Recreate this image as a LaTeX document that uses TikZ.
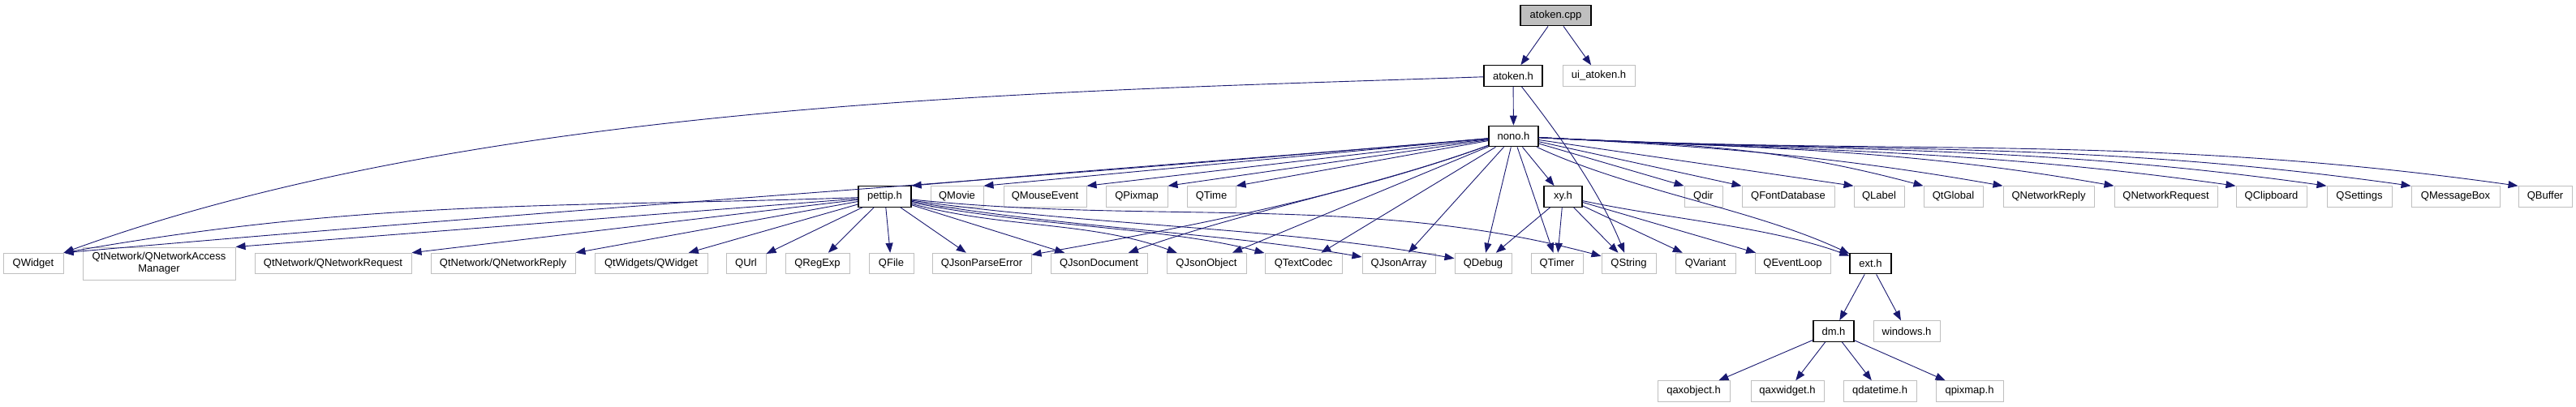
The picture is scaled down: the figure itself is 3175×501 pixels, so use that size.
\documentclass[tikz,border=0pt]{standalone}
\usepackage{fontspec}
\setmainfont{Liberation Sans}
\usetikzlibrary{arrows.meta}
\definecolor{borda}{HTML}{BFBFBF}
\definecolor{azul}{HTML}{191970}

\begin{document}
\begin{tikzpicture}[
        x=1pt, y=1pt,
        every node/.style = {
            shape=rectangle,
            draw=borda,
            line width=1pt,
            minimum height=25.5pt,
            inner sep=0pt,
            align=center,
            font=\fontsize{13}{15}\selectfont
        },
        hfile/.style={draw=black, line width=1.3pt},
        srcfile/.style={draw=black, line width=1.3pt, fill=borda},
        incl/.style={draw=azul, line width=0.9pt, -{Triangle[length=12pt,width=9pt]}}
    ]
    \useasboundingbox (0,0) rectangle (3175,-501);

    % RAIZ
    \node[srcfile, minimum width=87pt] (cpp) at (1917.5,-19) {atoken.cpp};
    % NIVEL 1
    \node[hfile, minimum width=72pt] (atokenh) at (1865,-93.5) {atoken.h};
    \node[minimum width=89pt] (uiatoken) at (1970.5,-93.5) {ui\_atoken.h};
    % NIVEL 2
    \node[hfile, minimum width=61pt] (nono) at (1865.5,-168) {nono.h};
    % NIVEL 3
    \node[hfile, minimum width=65pt] (pettip) at (1090.5,-242.5) {pettip.h};
    \node[minimum width=65pt] (qmovie) at (1179.5,-242.5) {QMovie};
    \node[minimum width=102pt] (qmouseevent) at (1288,-242.5) {QMouseEvent};
    \node[minimum width=76pt] (qpixmap) at (1401,-242.5) {QPixmap};
    \node[minimum width=60pt] (qtime) at (1493,-242.5) {QTime};
    \node[hfile, minimum width=47pt] (xy) at (1926.5,-242.5) {xy.h};
    \node[minimum width=47pt] (qdir) at (2099.5,-242.5) {Qdir};
    \node[minimum width=114pt] (qfontdb) at (2204,-242.5) {QFontDatabase};
    \node[minimum width=62pt] (qlabel) at (2316,-242.5) {QLabel};
    \node[minimum width=73pt] (qtglobal) at (2407.5,-242.5) {QtGlobal};
    \node[minimum width=112pt] (qnetreply) at (2525,-242.5) {QNetworkReply};
    \node[minimum width=127pt] (qnetrequest) at (2669.5,-242.5) {QNetworkRequest};
    \node[minimum width=87pt] (qclipboard) at (2799.5,-242.5) {QClipboard};
    \node[minimum width=80pt] (qsettings) at (2908,-242.5) {QSettings};
    \node[minimum width=109pt] (qmsgbox) at (3026.5,-242.5) {QMessageBox};
    \node[minimum width=66pt] (qbuffer) at (3137,-242.5) {QBuffer};
    % NIVEL 4
    \node[minimum width=74pt] (qwidget) at (41,-325) {QWidget};
    \node[minimum width=188pt, minimum height=40pt] (qnam) at (196,-325) {QtNetwork/QNetworkAccess\\Manager};
    \node[minimum width=193pt] (qtnrequest) at (410.5,-325) {QtNetwork/QNetworkRequest};
    \node[minimum width=178pt] (qtnreply) at (620,-325) {QtNetwork/QNetworkReply};
    \node[minimum width=139pt] (qtwidget) at (802.5,-325) {QtWidgets/QWidget};
    \node[minimum width=49pt] (qurl) at (919.5,-325) {QUrl};
    \node[minimum width=79pt] (qregexp) at (1007.5,-325) {QRegExp};
    \node[minimum width=55pt] (qfile) at (1098.5,-325) {QFile};
    \node[minimum width=122pt] (qjsonerr) at (1210,-325) {QJsonParseError};
    \node[minimum width=119pt] (qjsondoc) at (1354.5,-325) {QJsonDocument};
    \node[minimum width=98pt] (qjsonobj) at (1487,-325) {QJsonObject};
    \node[minimum width=95pt] (qtextcodec) at (1606.5,-325) {QTextCodec};
    \node[minimum width=90pt] (qjsonarr) at (1724,-325) {QJsonArray};
    \node[minimum width=70pt] (qdebug) at (1828,-325) {QDebug};
    \node[minimum width=64pt] (qtimer) at (1919,-325) {QTimer};
    \node[minimum width=67pt] (qstring) at (2007.5,-325) {QString};
    \node[minimum width=74pt] (qvariant) at (2102,-325) {QVariant};
    \node[minimum width=93pt] (qeventloop) at (2209.5,-325) {QEventLoop};
    \node[hfile, minimum width=51pt] (ext) at (2305.5,-325) {ext.h};
    % NIVEL 5
    \node[hfile, minimum width=50pt] (dm) at (2260,-408.5) {dm.h};
    \node[minimum width=82pt] (windows) at (2350,-408.5) {windows.h};
    % NIVEL 6
    \node[minimum width=89pt] (qaxobject) at (2087.5,-482.5) {qaxobject.h};
    \node[minimum width=90pt] (qaxwidget) at (2203,-482.5) {qaxwidget.h};
    \node[minimum width=90pt] (qdatetime) at (2317,-482.5) {qdatetime.h};
    \node[minimum width=83pt] (qpixmaph) at (2427.5,-482.5) {qpixmap.h};

    % ATOKEN.CPP
    \draw[incl] (cpp) -- (atokenh);
    \draw[incl] (cpp) -- (uiatoken);
    % ATOKEN.H
    \draw[incl] (atokenh) -- (nono);
    \draw[incl] (atokenh) .. controls +(-52:95) and +(112:95) .. (qstring);
    \draw[incl] (atokenh) .. controls +(182:554) and +(20:554) .. (qwidget.north east);
    % NONO.H
    \draw[incl] (nono) .. controls +(185:280) and +(5:280) .. (pettip.north east);
    \draw[incl] (nono) -- (qmovie.north east);
    \draw[incl] (nono) -- (qmouseevent.north east);
    \draw[incl] (nono) -- (qpixmap.north east);
    \draw[incl] (nono) -- (qtime.north east);
    \draw[incl] (nono) -- (xy);
    \draw[incl] (nono) -- (qdir.north west);
    \draw[incl] (nono) -- (qfontdb.north west);
    \draw[incl] (nono) -- (qlabel.north west);
    \draw[incl] (nono) .. controls +(-3:200) and +(165:200) .. (qtglobal.north west);
    \draw[incl] (nono) .. controls +(-3:225) and +(170:225) .. (qnetreply.north west);
    \draw[incl] (nono) .. controls +(-3:278) and +(170:278) .. (qnetrequest.north west);
    \draw[incl] (nono) .. controls +(-3:336) and +(172:336) .. (qclipboard.north west);
    \draw[incl] (nono) .. controls +(-3:380) and +(172:380) .. (qsettings.north west);
    \draw[incl] (nono) .. controls +(-3:420) and +(172:420) .. (qmsgbox.north west);
    \draw[incl] (nono) .. controls +(-3:472) and +(172:472) .. (qbuffer.north west);
    \draw[incl] (nono) .. controls +(185:690) and +(5:690) .. (qwidget.north east);
    \draw[incl] (nono) .. controls +(200:225) and +(10:225) .. (qjsonerr);
    \draw[incl] (nono) .. controls +(200:184) and +(20:184) .. (qjsondoc);
    \draw[incl] (nono) -- (qjsonobj);
    \draw[incl] (nono) -- (qtextcodec);
    \draw[incl] (nono) -- (qjsonarr);
    \draw[incl] (nono) -- (qdebug);
    \draw[incl] (nono) -- (qtimer);
    \draw[incl] (nono) .. controls +(-25:160) and +(155:160) .. (ext);
    % PETTIP.H
    \draw[incl] (pettip) .. controls +(182:386) and +(10:386) .. (qwidget.north east);
    \draw[incl] (pettip) -- (qnam.north east);
    \draw[incl] (pettip) -- (qtnrequest.north east);
    \draw[incl] (pettip) -- (qtnreply.north east);
    \draw[incl] (pettip) -- (qtwidget);
    \draw[incl] (pettip) -- (qurl);
    \draw[incl] (pettip) -- (qregexp);
    \draw[incl] (pettip) -- (qfile);
    \draw[incl] (pettip) -- (qjsonerr);
    \draw[incl] (pettip) -- (qjsondoc);
    \draw[incl] (pettip) .. controls +(-15:154) and +(160:154) .. (qjsonobj);
    \draw[incl] (pettip) .. controls +(-12:173) and +(165:173) .. (qtextcodec);
    \draw[incl] (pettip) .. controls +(-10:220) and +(170:220) .. (qjsonarr);
    \draw[incl] (pettip) .. controls +(-8:263) and +(170:263) .. (qdebug);
    \draw[incl] (pettip) .. controls +(-6:334) and +(165:334) .. (qstring);
    % XY.H
    \draw[incl] (xy) -- (qdebug);
    \draw[incl] (xy) -- (qtimer);
    \draw[incl] (xy) -- (qstring);
    \draw[incl] (xy) -- (qvariant);
    \draw[incl] (xy) -- (qeventloop);
    \draw[incl] (xy) .. controls +(-12:132) and +(160:132) .. (ext);
    % EXT.H
    \draw[incl] (ext) -- (dm);
    \draw[incl] (ext) -- (windows);
    % DM.H
    \draw[incl] (dm) -- (qaxobject);
    \draw[incl] (dm) -- (qaxwidget);
    \draw[incl] (dm) -- (qdatetime);
    \draw[incl] (dm) -- (qpixmaph);
\end{tikzpicture}
\end{document}
